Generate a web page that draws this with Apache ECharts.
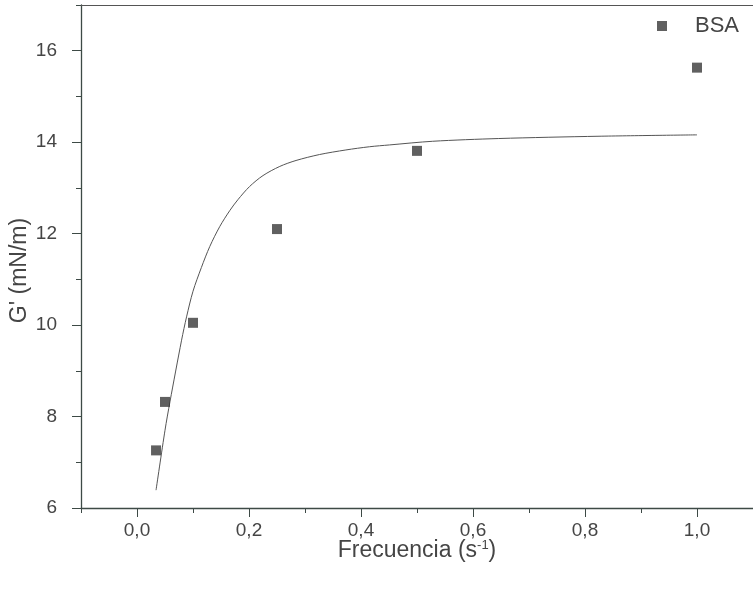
<!DOCTYPE html>
<html>
<head>
<meta charset="utf-8">
<script src="https://cdn.jsdelivr.net/npm/echarts@6/dist/echarts.min.js"></script>
<style>
html,body{margin:0;padding:0;background:#fff;}
#chart{width:753px;height:591px;}
</style>
</head>
<body>
<div id="chart"></div>
<script>
// measured data (BSA)
var freq = [0.034, 0.05, 0.1, 0.25, 0.5, 1.0];
var gPrime = [7.26, 8.32, 10.05, 12.1, 13.81, 15.63];
// fitted curve
var fitX = [0.034, 0.050, 0.0588, 0.0796, 0.0885, 0.100, 0.115, 0.130, 0.148, 0.166, 0.180, 0.201, 0.225, 0.255, 0.284, 0.326, 0.373, 0.415, 0.451, 0.528, 0.646, 0.825, 1.0];
var fitY = [6.39, 7.70, 8.32, 9.67, 10.18, 10.74, 11.26, 11.72, 12.16, 12.51, 12.74, 13.03, 13.27, 13.47, 13.60, 13.73, 13.83, 13.90, 13.94, 14.02, 14.08, 14.13, 14.16];
var xTicks = [0.0, 0.2, 0.4, 0.6, 0.8, 1.0];
var yTicks = [6, 8, 10, 12, 14, 16];

var axisColor = '#3d4a46';
var textColor = '#454545';
var font = 'Liberation Sans, Arial, sans-serif';

function zip(a, b) { return a.map(function (v, i) { return [v, b[i]]; }); }

var chart = echarts.init(document.getElementById('chart'), null, {renderer: 'canvas'});
chart.setOption({
  backgroundColor: '#ffffff',
  animation: false,
  textStyle: {fontFamily: font},
  legend: {
    data: ['BSA'],
    left: 652, top: 10,
    itemWidth: 10, itemHeight: 10,
    icon: 'rect',
    textStyle: {fontSize: 22, color: textColor, fontFamily: font, padding: [0, 0, 0, 23]}
  },
  grid: [
    {left: 81, right: 0, top: 5, bottom: 83},
    {left: 137, right: 56, top: 50.73, bottom: 83}
  ],
  xAxis: [
    { // minor ticks + axis line
      type: 'value', gridIndex: 0, min: -0.1, max: 1.1, interval: 0.1,
      name: '{n|Frecuencia (s}{s|-1}{n|)}', nameLocation: 'middle', nameGap: 31,
      nameTextStyle: {
        rich: {
          n: {fontSize: 23, color: textColor, fontFamily: font},
          s: {fontSize: 13, color: textColor, fontFamily: font, verticalAlign: 'top', padding: [0, 0, 10, 0]}
        }
      },
      axisLine: {show: true, onZero: false, lineStyle: {color: axisColor, width: 1.3}},
      axisTick: {show: true, inside: false, length: 5, lineStyle: {color: axisColor}},
      axisLabel: {show: false},
      splitLine: {show: false}
    },
    { // top border
      type: 'value', gridIndex: 0, position: 'top', min: -0.1, max: 1.1,
      axisLine: {show: true, onZero: false, lineStyle: {color: '#555', width: 1}},
      axisTick: {show: false}, axisLabel: {show: false}, splitLine: {show: false}
    },
    { // major ticks + labels
      type: 'value', gridIndex: 1, min: 0, max: 1, interval: 0.2,
      axisLine: {show: false, onZero: false},
      axisTick: {show: true, inside: false, length: 9, lineStyle: {color: axisColor}},
      axisLabel: {
        show: true, margin: 13, fontSize: 19, color: textColor, fontFamily: font,
        formatter: function (v) { return v.toFixed(1).replace('.', ','); }
      },
      splitLine: {show: false}
    }
  ],
  yAxis: [
    {
      type: 'value', gridIndex: 0, min: 6, max: 17, interval: 1,
      name: "G' (mN/m)", nameLocation: 'middle', nameGap: 50,
      nameTextStyle: {fontSize: 23, color: textColor, fontFamily: font, padding: [0, 28, 0, 0]},
      axisLine: {show: true, onZero: false, lineStyle: {color: axisColor, width: 1.3}},
      axisTick: {show: true, inside: false, length: 5, lineStyle: {color: axisColor}},
      axisLabel: {show: false},
      splitLine: {show: false}
    },
    { // right border
      type: 'value', gridIndex: 0, position: 'right', min: 6, max: 17,
      axisLine: {show: true, onZero: false, lineStyle: {color: '#d8d8d8', width: 1}},
      axisTick: {show: false}, axisLabel: {show: false}, splitLine: {show: false}
    },
    {
      type: 'value', gridIndex: 1, min: 6, max: 16, interval: 2, offset: 56,
      axisLine: {show: false, onZero: false},
      axisTick: {show: true, inside: false, length: 9, lineStyle: {color: axisColor}},
      axisLabel: {show: true, margin: 24, fontSize: 19, color: textColor, fontFamily: font},
      splitLine: {show: false}
    }
  ],
  series: [
    {
      name: 'BSA', type: 'scatter', xAxisIndex: 0, yAxisIndex: 0,
      symbol: 'rect', symbolSize: 10,
      itemStyle: {color: '#383838'},
      data: zip(freq, gPrime), z: 3
    },
    {
      name: 'fit', type: 'line', xAxisIndex: 0, yAxisIndex: 0,
      smooth: 0.3, showSymbol: false, symbol: 'none',
      lineStyle: {color: '#555', width: 1},
      data: zip(fitX, fitY), z: 2
    }
  ]
});
</script>
</body>
</html>
